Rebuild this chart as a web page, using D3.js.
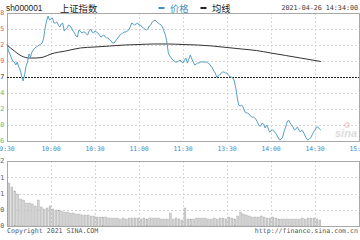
<!DOCTYPE html>
<html><head><meta charset="utf-8">
<script src="https://cdn.jsdelivr.net/npm/d3@7"></script>
<style>html,body{margin:0;padding:0;background:#fff;overflow:hidden}</style>
</head><body><svg id="c" width="360" height="240"></svg>
<script>
const symbol = "sh000001";
const title = "上证指数";
const legendNames = ["价格", "均线"];
const stamp = "2021-04-26 14:34:00";
const copyrightText = "Copyright 2021 SINA.COM";
const urlText = "http://finance.sina.com.cn";
const prevClose = 3474.17;
const priceTicks = [3508.28, 3499.75, 3491.22, 3482.69, 3474.17, 3465.64, 3457.12, 3448.60, 3440.06];
const volTicks = [3202, 2401, 1601, 800, 0];
const timeTickMinutes = [0, 30, 60, 90, 120, 150, 180, 210, 240];
const timeTickLabels = ["9:30", "10:00", "10:30", "11:00", "11:30", "13:30", "14:00", "14:30", "15:00"];

// price per trading minute from 09:30 (lunch break skipped)
const price = [
3491.76,3488.03,3486.43,3484.30,3482.70,3482.16,3480.57,3482.16,3479.50,3477.90,
3474.70,3472.04,3475.24,3480.03,3482.16,3486.43,3484.83,3487.49,3488.56,3489.63,
3490.16,3490.69,3491.22,3491.76,3492.29,3494.96,3500.29,3504.02,3506.68,3504.55,
3505.08,3505.61,3502.95,3502.95,3503.48,3501.88,3500.82,3502.42,3502.95,3498.69,
3499.75,3500.29,3501.88,3501.35,3500.29,3498.69,3497.62,3496.02,3495.49,3499.22,
3498.69,3497.62,3498.15,3498.15,3497.09,3496.55,3498.69,3499.75,3498.15,3497.62,
3498.69,3498.15,3497.62,3496.55,3495.49,3496.02,3496.55,3495.49,3494.96,3494.96,
3493.89,3493.36,3492.29,3492.29,3493.36,3494.42,3495.49,3496.55,3497.09,3497.62,
3498.15,3498.15,3498.69,3499.22,3500.82,3502.95,3502.42,3501.88,3502.42,3502.95,
3501.88,3501.88,3500.82,3500.29,3499.75,3499.22,3499.75,3501.35,3501.88,3503.48,
3504.02,3504.55,3503.48,3502.95,3502.42,3501.88,3500.82,3498.69,3496.55,3492.82,
3486.96,3485.36,3484.30,3483.23,3482.70,3482.16,3482.16,3482.70,3483.23,3482.16,
3481.63,3483.23,3484.30,3481.63,3483.76,3485.89,3483.76,3482.16,3480.57,3481.10,
3481.63,3481.63,3482.16,3482.16,3482.16,3482.16,3482.16,3481.63,3481.10,3480.03,
3478.97,3477.37,3476.30,3474.17,3474.70,3475.24,3476.30,3476.83,3476.83,3476.30,
3476.30,3475.24,3474.17,3474.17,3473.64,3472.04,3468.31,3462.98,3459.25,3458.72,
3459.25,3458.18,3456.05,3454.98,3454.98,3454.45,3453.39,3452.85,3452.85,3452.32,
3451.26,3449.65,3448.06,3448.06,3449.65,3449.12,3446.99,3448.59,3446.99,3444.86,
3445.39,3445.92,3445.39,3444.32,3443.26,3441.66,3440.59,3441.13,3442.19,3445.39,
3447.52,3450.19,3451.26,3449.65,3448.59,3447.52,3445.92,3446.46,3447.52,3445.92,
3444.86,3445.92,3444.86,3443.26,3441.66,3440.59,3441.13,3441.66,3443.26,3444.86,
3445.92,3447.52,3447.52,3446.46,3445.92];

const avgMinutes = [0,5,10,15,20,25,30,40,50,60,70,80,90,100,110,120,130,140,150,160,170,180,190,200,214];
const avgPrice = [3491.22,3488.03,3485.36,3484.30,3484.30,3484.83,3486.43,3488.03,3489.63,3490.16,3490.69,3491.22,3491.49,3491.76,3491.76,3491.49,3491.22,3490.69,3489.89,3489.09,3488.29,3486.96,3485.63,3484.30,3482.43];

// volume per 2-minute interval from 09:30
const volume = [
2118,1921,1724,1576,1330,1281,1133,1133,1084,985,
1281,936,837,887,985,837,788,788,739,690,
690,640,640,591,591,542,542,542,493,493,
443,443,443,443,394,394,394,394,345,394,
345,394,394,394,394,345,394,345,394,394,
394,394,345,345,345,640,345,394,345,296,
887,345,345,345,394,394,394,394,345,345,
394,345,394,394,345,443,394,345,493,690,
591,542,493,443,443,443,493,443,394,394,
443,394,345,345,345,345,345,345,345,345,
394,345,394,394,394,345,296];
const volMinutes = volume.map((v, i) => i * 2);

const svg = d3.select("#c");
const L = 7, R = 359, PT = 13, PB = 141, VT = 161, VB = 226;
const x = d3.scaleLinear().domain([0, 240]).range([L, R]);
const y = d3.scaleLinear().domain([priceTicks[priceTicks.length - 1], priceTicks[0]]).range([PB, PT]);
const yv = d3.scaleLinear().domain([0, volTicks[0]]).range([VB, VT]);
const mono = "'DejaVu Sans Mono', 'Liberation Mono', monospace";
const sans = "'Liberation Sans', Arial, sans-serif";
const cjk = "'Noto Sans CJK SC', sans-serif";

// grids
const grid = svg.append("g").attr("stroke", "#d6d6d6").attr("stroke-width", 1).attr("stroke-dasharray", "2,2").attr("shape-rendering", "crispEdges");
priceTicks.slice(1, -1).forEach(t => { if (t !== prevClose) grid.append("line").attr("x1", L).attr("x2", R).attr("y1", Math.round(y(t)) + 0.5).attr("y2", Math.round(y(t)) + 0.5); });
volTicks.slice(1, -1).forEach(t => grid.append("line").attr("x1", L).attr("x2", R).attr("y1", Math.round(yv(t)) + 0.5).attr("y2", Math.round(yv(t)) + 0.5));
timeTickMinutes.slice(1, -1).forEach(m => {
  const xx = Math.round(x(m)) + 0.5;
  grid.append("line").attr("x1", xx).attr("x2", xx).attr("y1", PT).attr("y2", PB);
  grid.append("line").attr("x1", xx).attr("x2", xx).attr("y1", VT).attr("y2", VB);
});

// frames
const fr = svg.append("g").attr("fill", "none").attr("stroke", "#a8a8a8").attr("shape-rendering", "crispEdges");
fr.append("rect").attr("x", L + 0.5).attr("y", PT + 0.5).attr("width", R - L).attr("height", PB - PT);
fr.append("rect").attr("x", L + 0.5).attr("y", VT + 0.5).attr("width", R - L).attr("height", VB - VT);

// volume bars
svg.append("g").selectAll("rect").data(volume).join("rect")
  .attr("x", (d, i) => x(volMinutes[i]) + 1)
  .attr("y", d => yv(d))
  .attr("width", 1.9)
  .attr("height", d => VB - yv(d))
  .attr("fill", "#d2d2d2").attr("stroke", "#9e9e9e").attr("stroke-width", 0.35);

// watermark
svg.append("text").attr("x", 357).attr("y", 137).attr("text-anchor", "end")
  .attr("font-family", sans).attr("font-style", "italic").attr("font-weight", "bold")
  .attr("font-size", 11).attr("fill", "#dcdcdc").text("sina");
svg.append("circle").attr("cx", 347).attr("cy", 125).attr("r", 2.3).attr("fill", "none").attr("stroke", "#ecb8b8").attr("stroke-width", 1);

// prev close dashed
svg.append("line").attr("x1", L).attr("x2", R).attr("y1", Math.round(y(prevClose)) + 0.5).attr("y2", Math.round(y(prevClose)) + 0.5)
  .attr("stroke", "#222").attr("stroke-dasharray", "2,1").attr("shape-rendering", "crispEdges");

// lines
svg.append("path").datum(avgPrice).attr("fill", "none").attr("stroke", "#333").attr("stroke-width", 1)
  .attr("d", d3.line().x((d, i) => x(avgMinutes[i])).y(d => y(d)).curve(d3.curveMonotoneX));
svg.append("path").datum(price).attr("fill", "none").attr("stroke", "#5a9fc6").attr("stroke-width", 1)
  .attr("d", d3.line().x((d, i) => x(i)).y(d => y(d)));

// left price labels (clipped at the left edge as in the source)
priceTicks.forEach(t => {
  svg.append("text").attr("x", 4.3).attr("y", y(t)).attr("dy", "0.35em").attr("text-anchor", "end")
    .attr("font-family", mono).attr("font-size", 6.7)
    .attr("fill", t > prevClose ? "#d9534f" : (t < prevClose ? "#5cb85c" : "#222"))
    .text(t.toFixed(2));
});
volTicks.forEach(t => {
  svg.append("text").attr("x", 4.3).attr("y", yv(t)).attr("dy", "0.35em").attr("text-anchor", "end")
    .attr("font-family", mono).attr("font-size", 6.7).attr("fill", "#555").text(String(t));
});

// time labels
timeTickMinutes.forEach((m, i) => {
  svg.append("text").attr("x", x(m)).attr("y", 151).attr("text-anchor", "middle")
    .attr("font-family", mono).attr("font-size", 6.4).attr("fill", "#3f8cc2").text(timeTickLabels[i]);
});

// header
svg.append("text").attr("x", 6).attr("y", 11).attr("font-family", sans).attr("font-size", 8.3).attr("fill", "#222").text(symbol);
svg.append("text").attr("x", 60).attr("y", 11.5).attr("font-family", cjk).attr("font-size", 9.3).attr("fill", "#222").text(title);
svg.append("line").attr("x1", 158.5).attr("x2", 164.5).attr("y1", 8).attr("y2", 8).attr("stroke", "#3f8cc2").attr("stroke-width", 2);
svg.append("text").attr("x", 170).attr("y", 11.5).attr("font-family", cjk).attr("font-size", 9.3).attr("fill", "#3f8cc2").text(legendNames[0]);
svg.append("line").attr("x1", 200.5).attr("x2", 206.5).attr("y1", 8).attr("y2", 8).attr("stroke", "#222").attr("stroke-width", 2);
svg.append("text").attr("x", 212).attr("y", 11.5).attr("font-family", cjk).attr("font-size", 9.3).attr("fill", "#222").text(legendNames[1]);
svg.append("text").attr("x", 358).attr("y", 10).attr("text-anchor", "end").attr("font-family", mono).attr("font-size", 6.7).attr("fill", "#333").text(stamp);

// footer
svg.append("text").attr("x", 7).attr("y", 233).attr("font-family", mono).attr("font-size", 6.6).attr("fill", "#555").text(copyrightText);
svg.append("text").attr("x", 358).attr("y", 233).attr("text-anchor", "end").attr("font-family", mono).attr("font-size", 6.6).attr("fill", "#555").text(urlText);
</script></body></html>
